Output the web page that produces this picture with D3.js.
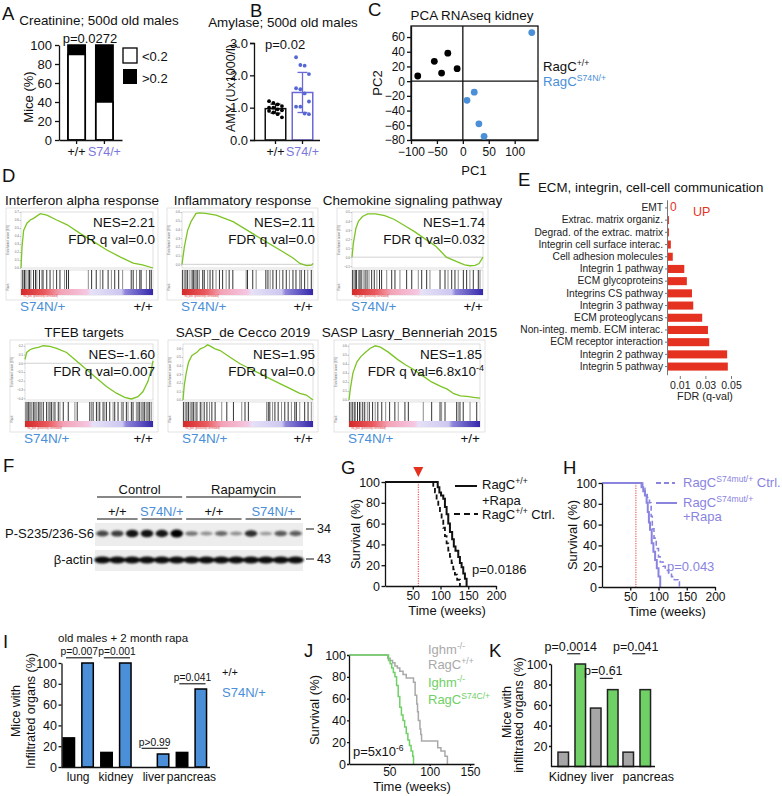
<!DOCTYPE html>
<html>
<head>
<meta charset="utf-8">
<script src="https://cdn.jsdelivr.net/npm/d3@7"></script>
<style>
  body { margin: 0; background: #fff; }
  svg text { font-family: "Liberation Sans", Arial, Helvetica, sans-serif; }
</style>
</head>
<body>
<svg id="fig" width="782" height="796"></svg>
<script>
// ---------------- data ----------------
// A: creatinine
var creatGroups = ["+/+", "S74/+"];
var creatLow = [90, 40];            // % of mice with creatinine < 0.2

// B: amylase (U x1000/l)
var amyGroups = ["+/+", "S74/+"];
var amyWt = [1.2, 1.15, 1.1, 1.05, 1.0, 1.0, 0.95, 0.92, 0.9, 0.85, 0.8, 0.7];
var amyMut = [2.56, 2.32, 2.30, 2.04, 1.60, 1.57, 1.44, 1.19, 1.03, 1.03, 0.82, 0.80];
var amyMean = [0.97, 1.47];
var amySd = [0.14, 0.62];

// C: PCA
var pcaWt = [[-87, 7], [-55, 27], [-41, 11], [-29, 38], [-11, 17]];
var pcaMut = [[8, -26], [22, -15], [31, -58], [41, -75], [133, 66]];

// D: GSEA  (rank %, enrichment score) and hit ranks in %
var gseaTitles = ["Interferon alpha response", "Inflammatory response", "Chemokine signaling pathway",
                  "TFEB targets", "SASP_de Cecco 2019", "SASP Lasry_Benneriah 2015"];
var gseaNes = ["NES=2.21", "NES=2.11", "NES=1.74", "NES=-1.60", "NES=1.95", "NES=1.85"];
var gseaFdr = ["0.0", "0.0", "0.032", "0.007", "0.0", "6.8x10"];
var esIfna = [[0,0],[0.8,0.27],[2,0.47],[4.5,0.56],[7,0.6],[9.5,0.62],[14.6,0.68],[19.6,0.66],[27,0.6],[35,0.54],[45,0.43],[55,0.33],[65,0.225],[75,0.14],[85,0.06],[92,0.04],[100,0]];
var hitsIfna = [1,1.5,2.5,3,4.5,6,6.5,7.5,9.5,11,12,14,16,17,19.5,22,24.5,27,29.5,33,34.5,36,51,53.5,57,60,62,66,68.5,71,74,77,83.5,85,87.5,90,91,95,97.5,98.7];
var esInfl = [[0,0],[1.8,0.2],[4.3,0.39],[6.9,0.49],[10.7,0.585],[13.3,0.59],[18,0.585],[26,0.565],[39,0.49],[51.5,0.375],[64,0.26],[77,0.145],[85,0.07],[90,0.01],[95,-0.015],[99,-0.01],[100,0.01]];
var hitsInfl = [0.5,1.8,3,4.3,6,7.7,8.7,9.4,10.7,12,13.3,15.8,17,19.6,21.4,23.5,26,28.6,31,33.7,36,38.8,49,50,54,56.6,64,65.6,67.3,69.4,72,74.5,77,79.6,82,84.7,87,89.8,91,93.6,96,98.7];
var esChemo = [[0,0],[1,0.15],[3,0.32],[5,0.4],[8,0.45],[12,0.48],[18,0.48],[25,0.46],[32,0.42],[40,0.35],[48,0.28],[56,0.2],[64,0.12],[72,0.0],[80,-0.05],[86,-0.085],[90,-0.095],[94,-0.09],[97,-0.07],[100,0.0]];
var hitsChemo = [0.5,1.5,2.5,3.5,5,6,7,8.5,10,11.5,13,15,17,19,21,22.6,26.5,30.3,32.8,36.6,41.7,45.6,50.6,53.2,57,59.5,67.2,71,73.3,76.1,78.6,81.1,85,87.5,90,92.6,96.4,97.7];
var esTfeb = [[0,0.045],[1.3,0.123],[3.9,0.154],[6.5,0.17],[10.4,0.181],[14.3,0.2],[19.5,0.193],[24.7,0.17],[32.5,0.123],[40.3,0.026],[48,-0.071],[55.8,-0.168],[63.6,-0.265],[71.4,-0.342],[77.9,-0.389],[83.1,-0.408],[88.3,-0.381],[92.2,-0.323],[96.1,-0.207],[98.7,-0.071],[100,0.026]];
var hitsTfeb = [0.8,1.8,2.6,3.9,5.2,6.5,7.8,9.1,10.4,11.7,13,14.3,16.9,18.2,19.5,20.8,22.1,23.4,26,27.3,29.9,33.8,39,40.8,50.6,51.9,53.2,55.8,57.1,58.4,61,62.3,63.6,66.2,68.8,70.1,72.7,75.3,76.6,79.2,80.5,83.1,84.4,87,88.3,89.6,90.9,92.2,93.5,94.8,96.1,97.4,98.7];
var esCecco = [[0,0],[1,0.172],[2.6,0.325],[4.3,0.44],[6.9,0.516],[10.7,0.554],[13.3,0.593],[16.3,0.612],[18.9,0.64],[21.4,0.623],[24.7,0.593],[28.6,0.574],[36.2,0.497],[43.9,0.421],[51.5,0.363],[59.2,0.306],[66.8,0.248],[74.5,0.191],[82.1,0.134],[89.8,0.076],[94.9,0.057],[100,0]];
var hitsCecco = [0.5,1.8,3,4.3,5.6,6.9,8.2,9.4,10.7,13.3,14.5,16.3,18.4,20.4,22.2,24.7,29.8,33.7,38.8,45.2,47.7,50.3,64.3,65.6,66.8,68.9,70.7,73.2,75.8,78.3,80.9,83.4,86,87.2,89.8,93.6,96.2,98.7];
var esLasry = [[0,0],[1,0.12],[3,0.3],[6,0.42],[9,0.48],[12,0.52],[16,0.57],[20,0.6],[24,0.585],[30,0.53],[37,0.45],[43,0.39],[49,0.34],[56,0.27],[63,0.2],[70,0.15],[75,0.12],[80,0.07],[85,0.045],[90,0.04],[95,0.03],[100,0.02]];
var hitsLasry = [0.5,1.5,2.5,4,5,6.5,8,9,10.5,12,14,15.5,18,20,22,25,28,31,35,37.6,42.7,45.3,56.7,63.1,69.5,70.7,73.3,82.2,83.4,84.7,87.2,92.4,97.5];

// E: ECM terms, FDR q-values
var ecmTerms = ["EMT", "Extrac. matrix organiz.", "Degrad. of the extrac. matrix", "Integrin cell surface interac.",
                "Cell adhesion molecules", "Integrin 1 pathway", "ECM glycoproteins", "Integrins CS pathway",
                "Integrin 3 pathway", "ECM proteoglycans", "Non-integ. memb. ECM interac.", "ECM receptor interaction",
                "Integrin 2 pathway", "Integrin 5 pathway"];
var ecmFdr = [0, 0.0015, 0.0015, 0.003, 0.0045, 0.0135, 0.0155, 0.0195, 0.0205, 0.0275, 0.032, 0.033, 0.047, 0.0475];
var ecmTicks = [0.01, 0.03, 0.05];

// F: western blot, relative band intensity per lane
var blotTreatments = ["Control", "Rapamycin"];
var blotGenotypes = ["+/+", "S74N/+", "+/+", "S74N/+"];
var blotLanesPerGroup = [3, 3, 4, 4];
var ps6Signal = [0.6, 0.65, 0.9, 0.9, 0.88, 1.0, 0.35, 0.2, 0.42, 0.2, 0.75, 0.15, 0.5, 0.48];
var actinSignal = [0.95, 0.95, 0.95, 0.95, 0.95, 0.95, 0.95, 0.95, 0.95, 0.95, 0.95, 0.95, 0.95, 0.95];

// G, H, J: Kaplan-Meier steps [weeks, survival %]
var gRapa = [[0,100],[93,100],[95,95],[98,90],[101,87],[105,84],[108,76],[111,69],[114,60],[117,52],[121,45],[124,38],[127,34],[132,28],[135,22],[138,18],[141,12],[144,7],[147,0]];
var gCtrl = [[0,100],[84,100],[87,95],[90,90],[93,83],[96,77],[99,70],[102,64],[105,56],[108,48],[111,41],[114,34],[117,28],[120,22],[123,16],[126,11],[130,6],[135,0]];
var hRapa = [[0,100],[67,100],[70,96],[73,92],[76,88],[79,81],[81,72],[83,62],[85,55],[88,42],[91,34],[94,26],[97,18],[100,10],[103,0]];
var hCtrl = [[0,100],[68,100],[72,95],[76,90],[80,86],[84,81],[87,68],[89,56],[92,47],[96,37],[100,29],[103,24],[108,20],[112,16],[118,13],[123,10],[128,7],[135,5],[137,0]];
var jWt = [[0,100],[45,100],[48,97],[51,95],[54,93],[57,90],[60,88],[63,85],[67,82],[71,79],[80,75],[82,63],[84,55],[85,48],[86,40],[88,32],[89,27],[90,21],[107,21],[110,15],[114,12],[119,7],[122,0]];
var jMut = [[0,100],[47,100],[49,95],[51,92],[53,88],[55,84],[57,80],[59,72],[61,62],[63,52],[65,45],[67,40],[69,34],[71,28],[73,22],[75,17],[77,12],[79,7],[80,0]];
var survTicks = [0, 20, 40, 60, 80, 100];

// I: infiltrated organs, old males + rapa
var organsI = ["lung", "kidney", "liver", "pancreas"];
var infWt = [28, 14, 0, 14];
var infMut = [100, 100, 12.5, 75];
var pI = ["p=0.007", "p=0.001", "p>0.99", "p=0.041"];
var pLevelI = [105, 105, 18, 80];

// K: Ighm-/- infiltrated organs
var organsK = ["Kidney", "liver", "pancreas"];
var infKWt = [14, 57, 14];
var infKMut = [100, 75, 75];
var pK = ["p=0.0014", "p=0.61", "p=0.041"];
var pLevelK = [110, 86, 110];

// ---------------- helpers ----------------
var BLUE = "#4a8fd8", PURPLE = "#7b76dc", HPURPLE = "#8a84df", RED = "#e5311f",
    GREEN = "#6fd066", GRAY = "#a9a9a9", ESGREEN = "#7cc424", INK = "#111";

var svg = d3.select("#fig");
svg.append("rect").attr("width", 782).attr("height", 796).attr("fill", "#fff");

var defs = svg.append("defs");
var grad = defs.append("linearGradient").attr("id", "rank");
[[0, "#d42a2a"], [0.18, "#ea5a5e"], [0.3, "#f3a3b6"], [0.5, "#f5c7e2"], [0.53, "#e6e1f7"],
 [0.76, "#cdc7f1"], [0.79, "#8f86da"], [1, "#3527aa"]].forEach(function(s) {
  grad.append("stop").attr("offset", s[0]).attr("stop-color", s[1]);
});
defs.append("filter").attr("id", "blur").attr("x", "-50%").attr("y", "-100%").attr("width", "200%").attr("height", "300%")
  .append("feGaussianBlur").attr("stdDeviation", 1.1);

function txt(x, y, s, o) {
  o = o || {};
  var t = svg.append("text").attr("x", x).attr("y", y)
    .attr("font-size", o.size || 13).attr("fill", o.color || INK)
    .attr("text-anchor", o.anchor || "start").text(s);
  if (o.rotate) t.attr("transform", "rotate(-90," + x + "," + y + ")");
  return t;
}
// parts: [string, isSuperscript]
function rich(x, y, parts, o) {
  o = o || {};
  var size = o.size || 13;
  var t = svg.append("text").attr("x", x).attr("y", y).attr("font-size", size)
    .attr("fill", o.color || INK).attr("text-anchor", o.anchor || "start");
  var shift = 0;
  parts.forEach(function(p) {
    var want = p[1] ? -size * 0.38 : 0;
    t.append("tspan").attr("dy", want - shift).attr("font-size", p[1] ? size * 0.66 : size).text(p[0]);
    shift = want;
  });
  return t;
}
function letter(x, y, s) { txt(x, y, s, {size: 18.5}); }
function styleAxis(g, size) {
  g.attr("font-size", size || 13);
  g.selectAll("path, line").attr("stroke", INK).attr("stroke-width", 1.3);
  g.selectAll("text").attr("fill", INK);
  return g;
}

// ---------------- A ----------------
letter(2, 20, "A");
txt(99, 25, "Creatinine; 500d old males", {size: 13.4, anchor: "middle"});
txt(90, 43, "p=0.0272", {anchor: "middle"});
var xA = d3.scaleBand().domain(creatGroups).range([59, 122]).paddingInner(0.375).paddingOuter(0.32);
var yA = d3.scaleLinear().domain([0, 100]).range([140, 45]);
svg.append("g").selectAll("rect").data(creatGroups).enter().append("rect")
  .attr("x", d => xA(d)).attr("width", xA.bandwidth())
  .attr("y", yA(100)).attr("height", (d, i) => yA(creatLow[i]) - yA(100))
  .attr("fill", "#000");
svg.append("g").selectAll("rect").data(creatGroups).enter().append("rect")
  .attr("x", d => xA(d)).attr("width", xA.bandwidth())
  .attr("y", (d, i) => yA(creatLow[i])).attr("height", (d, i) => yA(0) - yA(creatLow[i]))
  .attr("fill", "#fff").attr("stroke", "#000").attr("stroke-width", 1.5);
svg.append("g").selectAll("rect").data(creatGroups).enter().append("rect")
  .attr("x", d => xA(d)).attr("width", xA.bandwidth())
  .attr("y", yA(100)).attr("height", yA(0) - yA(100))
  .attr("fill", "none").attr("stroke", "#000").attr("stroke-width", 1.5);
styleAxis(svg.append("g").attr("transform", "translate(59,0)")
  .call(d3.axisLeft(yA).tickValues([0, 20, 40, 60, 80, 100]).tickSize(4).tickSizeOuter(0)));
var axA = styleAxis(svg.append("g").attr("transform", "translate(0,140)")
  .call(d3.axisBottom(xA).tickSize(4).tickSizeOuter(0)), 12.5);
axA.selectAll("text").attr("fill", (d, i) => i ? PURPLE : INK);
txt(33, 97, "Mice (%)", {anchor: "middle", rotate: true});
svg.append("rect").attr("x", 123).attr("y", 48).attr("width", 14).attr("height", 15).attr("fill", "#fff").attr("stroke", "#000").attr("stroke-width", 1.3);
svg.append("rect").attr("x", 123).attr("y", 69).attr("width", 14).attr("height", 15).attr("fill", "#000");
txt(142, 61, "<0.2");
txt(142, 83, ">0.2");

// ---------------- B ----------------
letter(250, 17, "B");
txt(283, 27, "Amylase; 500d old males", {size: 13.4, anchor: "middle"});
var xB = d3.scaleBand().domain(amyGroups).range([254, 324]).paddingInner(0.24).paddingOuter(0.416);
var yB = d3.scaleLinear().domain([0, 3]).range([140, 43]);
var amyCol = [INK, "#6b69d6"];
svg.append("g").selectAll("rect").data(amyGroups).enter().append("rect")
  .attr("x", d => xB(d)).attr("width", xB.bandwidth())
  .attr("y", (d, i) => yB(amyMean[i])).attr("height", (d, i) => yB(0) - yB(amyMean[i]))
  .attr("fill", "#fff").attr("stroke", (d, i) => amyCol[i]).attr("stroke-width", 1.5);
amyGroups.forEach(function(gname, i) {
  var cx = xB(gname) + xB.bandwidth() / 2;
  var lo = yB(amyMean[i] - amySd[i]), hi = yB(amyMean[i] + amySd[i]);
  var eg = svg.append("g").attr("stroke", amyCol[i]).attr("stroke-width", 1.3);
  eg.append("line").attr("x1", cx).attr("x2", cx).attr("y1", lo).attr("y2", hi);
  eg.append("line").attr("x1", cx - 5).attr("x2", cx + 5).attr("y1", lo).attr("y2", lo);
  eg.append("line").attr("x1", cx - 5).attr("x2", cx + 5).attr("y1", hi).attr("y2", hi);
  svg.append("g").selectAll("circle").data(i ? amyMut : amyWt).enter().append("circle")
    .attr("cx", (d, k) => cx + ((k % 4) - 1.5) * 4.3)
    .attr("cy", d => yB(d)).attr("r", 1.9)
    .attr("fill", i ? "#5467d2" : "#000");
});
styleAxis(svg.append("g").attr("transform", "translate(254,0)")
  .call(d3.axisLeft(yB).tickValues([0, 1, 2, 3]).tickSize(4).tickSizeOuter(4).tickPadding(2)));
var axB = styleAxis(svg.append("g").attr("transform", "translate(0,140)")
  .call(d3.axisBottom(xB).tickSize(4).tickSizeOuter(0)), 12.5);
axB.select(".domain").attr("d", "M254,0.5H320");
axB.selectAll("text").attr("fill", (d, i) => i ? PURPLE : INK);
txt(265, 49, "p=0.02");
txt(235, 88, "AMY (Ux1000/l)", {size: 12.5, anchor: "middle", rotate: true});

// ---------------- C ----------------
letter(368, 16, "C");
txt(472, 20, "PCA RNAseq kidney", {size: 13.4, anchor: "middle"});
var xC = d3.scaleLinear().domain([-100, 145]).range([411, 538]);
var yC = d3.scaleLinear().domain([-80, 75]).range([140, 26]);
svg.append("rect").attr("x", 411).attr("y", 26).attr("width", 127).attr("height", 114)
  .attr("fill", "none").attr("stroke", INK).attr("stroke-width", 1.3);
svg.append("line").attr("x1", xC(0)).attr("x2", xC(0)).attr("y1", 26).attr("y2", 140).attr("stroke", INK).attr("stroke-width", 1.3);
svg.append("line").attr("x1", 411).attr("x2", 538).attr("y1", yC(0)).attr("y2", yC(0)).attr("stroke", INK).attr("stroke-width", 1.3);
styleAxis(svg.append("g").attr("transform", "translate(411,0)")
  .call(d3.axisLeft(yC).tickValues([-80, -60, -40, -20, 0, 20, 40, 60]).tickSize(4).tickSizeOuter(0).tickPadding(2)), 12);
styleAxis(svg.append("g").attr("transform", "translate(0,140)")
  .call(d3.axisBottom(xC).tickValues([-100, -50, 0, 50, 100]).tickSize(4).tickSizeOuter(0)), 12);
svg.append("g").selectAll("circle").data(pcaWt).enter().append("circle")
  .attr("cx", d => xC(d[0])).attr("cy", d => yC(d[1])).attr("r", 3.4).attr("fill", "#000");
svg.append("g").selectAll("circle").data(pcaMut).enter().append("circle")
  .attr("cx", d => xC(d[0])).attr("cy", d => yC(d[1])).attr("r", 3.4).attr("fill", BLUE);
txt(474, 175, "PC1", {anchor: "middle"});
txt(382, 83, "PC2", {anchor: "middle", rotate: true});
rich(543, 71, [["RagC", 0], ["+/+", 1]], {size: 13.2});
rich(543, 86, [["RagC", 0], ["S74N/+", 1]], {size: 13.2, color: BLUE});

// ---------------- D: GSEA ----------------
letter(2, 182, "D");
function gsea(x0, top, w, k, es, hits, dom) {
  var esH = 56, hitH = 19, barH = 6;
  var g = svg.append("g");
  var x = d3.scaleLinear().domain([0, 100]).range([x0, x0 + w]);
  var y = d3.scaleLinear().domain(dom).range([top + esH, top]);
  var hTop = top + esH + 2;
  g.append("rect").attr("x", x0 - 15).attr("y", top - 4).attr("width", w + 20).attr("height", esH + hitH + barH + 11)
    .attr("fill", "none").attr("stroke", "#dcdcdc").attr("stroke-width", 0.8);
  g.append("rect").attr("x", x0).attr("y", top).attr("width", w).attr("height", esH)
    .attr("fill", "#fff").attr("stroke", "#d0d0d0").attr("stroke-width", 0.7);
  g.append("rect").attr("x", x0).attr("y", hTop).attr("width", w).attr("height", hitH + barH)
    .attr("fill", "#fff").attr("stroke", "#d0d0d0").attr("stroke-width", 0.7);
  if (dom[0] < 0) {
    g.append("line").attr("x1", x0).attr("x2", x0 + w).attr("y1", y(0)).attr("y2", y(0))
      .attr("stroke", "#bdbdbd").attr("stroke-width", 0.7);
  }
  var ax = g.append("g").attr("transform", "translate(" + x0 + ",0)")
    .call(d3.axisLeft(y).ticks(7).tickSize(1.5).tickSizeOuter(0));
  ax.attr("font-size", 3);
  ax.select(".domain").remove();
  ax.selectAll("line").attr("stroke", "#888").attr("stroke-width", 0.5);
  ax.selectAll("text").attr("fill", "#666").attr("x", -2);
  txt(x0 - 12.5, top + esH / 2, "Enrichment score (ES)", {size: 3, color: "#666", anchor: "middle", rotate: true});
  txt(x0 - 12.5, hTop + 17, "Rank", {size: 3, color: "#666", anchor: "middle", rotate: true});
  g.append("g").selectAll("line").data(hits).enter().append("line")
    .attr("x1", d => x(d)).attr("x2", d => x(d)).attr("y1", hTop).attr("y2", hTop + hitH)
    .attr("stroke", (d, i) => (i % 3 === 1) ? "#777" : "#111").attr("stroke-width", 0.85);
  g.append("rect").attr("x", x0).attr("y", hTop + hitH).attr("width", w).attr("height", barH).attr("fill", "url(#rank)");
  txt(x0 + 2, hTop + hitH + barH + 2.3, "'na_pos' (positively correlated)", {size: 2.6, color: "#e03030"});
  g.append("path").datum(es)
    .attr("d", d3.line().x(d => x(d[0])).y(d => y(d[1])))
    .attr("fill", "none").attr("stroke", ESGREEN).attr("stroke-width", 1.3);
  txt(x0 + w / 2 - 5, top - 7, gseaTitles[k], {size: 13.5, anchor: "middle"});
  txt(x0 + w + 2, top + 15, gseaNes[k], {size: 13.5, anchor: "end"});
  if (k === 5) {
    rich(x0 + w + 4, top + 32, [["FDR q val=" + gseaFdr[k], 0], ["-4", 1]], {size: 13.5, anchor: "end"});
  } else {
    txt(x0 + w + 2, top + 32, "FDR q val=" + gseaFdr[k], {size: 13.5, anchor: "end"});
  }
  txt(x0 - 1, top + 99, "S74N/+", {size: 13.5, color: BLUE});
  txt(x0 + w, top + 99, "+/+", {size: 13.5, anchor: "end"});
}
gsea(21, 212, 132, 0, esIfna, hitsIfna, [0, 0.7]);
gsea(182, 212, 131, 1, esInfl, hitsInfl, [-0.042, 0.6]);
gsea(352, 212, 131, 2, esChemo, hitsChemo, [-0.12, 0.5]);
gsea(25, 344, 128, 3, esTfeb, hitsTfeb, [-0.42, 0.22]);
gsea(183, 344, 130, 4, esCecco, hitsCecco, [0, 0.65]);
gsea(349, 344, 131, 5, esLasry, hitsLasry, [0, 0.62]);

// ---------------- E ----------------
letter(518, 186, "E");
txt(538, 192, "ECM, integrin, cell-cell communication", {size: 13.3});
var yE = d3.scaleBand().domain(ecmTerms).range([199.75, 374.75]).padding(0.34);
var xE = d3.scaleLinear().domain([0, 0.05]).range([667, 731]);
svg.append("g").selectAll("rect").data(ecmTerms).enter().append("rect")
  .attr("x", xE(0)).attr("y", d => yE(d)).attr("height", yE.bandwidth())
  .attr("width", (d, i) => xE(ecmFdr[i]) - xE(0)).attr("fill", RED);
var axEy = svg.append("g").attr("transform", "translate(667,0)")
  .call(d3.axisLeft(yE).tickSize(2).tickSizeOuter(0).tickPadding(2));
axEy.attr("font-size", 10.2);
axEy.selectAll("path, line").attr("stroke", "#777").attr("stroke-width", 1);
axEy.selectAll("text").attr("fill", "#222");
var axEx = svg.append("g").attr("transform", "translate(0,376)")
  .call(d3.axisBottom(xE).tickValues(ecmTicks).tickFormat(d3.format(".2f")).tickSize(3).tickSizeOuter(0));
axEx.attr("font-size", 10.5);
axEx.select(".domain").remove();
axEx.selectAll("line").attr("stroke", "#777");
axEx.selectAll("text").attr("fill", "#222");
txt(705, 400, "FDR (q-val)", {size: 10.8, anchor: "middle", color: "#222"});
txt(670, 211, "0", {size: 12, color: RED});
txt(693, 216, "UP", {size: 12.5, color: RED});

// ---------------- F: western blot ----------------
letter(3, 472, "F");
var lanes = d3.range(ps6Signal.length);
var xF = d3.scaleBand().domain(lanes).range([95, 303]).padding(0);
svg.append("rect").attr("x", 95).attr("y", 523).attr("width", 208).attr("height", 23).attr("fill", "#ededed");
svg.append("rect").attr("x", 95).attr("y", 550).attr("width", 208).attr("height", 21).attr("fill", "#ededed");
var bandG = svg.append("g").attr("filter", "url(#blur)");
bandG.selectAll(".ps6").data(ps6Signal).enter().append("ellipse")
  .attr("cx", (d, i) => xF(i) + xF.bandwidth() / 2).attr("cy", 533.5)
  .attr("rx", 6.3).attr("ry", d => 1.4 + 2.6 * d)
  .attr("fill", "#000").attr("fill-opacity", d => 0.25 + 0.75 * d);
bandG.selectAll(".act").data(actinSignal).enter().append("ellipse")
  .attr("cx", (d, i) => xF(i) + xF.bandwidth() / 2).attr("cy", 560)
  .attr("rx", 8.2).attr("ry", d => 3.6 * d)
  .attr("fill", "#000").attr("fill-opacity", d => d);
var laneStart = 0, gCenters = [];
blotLanesPerGroup.forEach(function(n, gi) {
  var a = xF(laneStart), b = xF(laneStart + n - 1) + xF.bandwidth();
  svg.append("line").attr("x1", a + 2).attr("x2", b - 2).attr("y1", 519).attr("y2", 519).attr("stroke", INK).attr("stroke-width", 1.1);
  txt((a + b) / 2, 516, blotGenotypes[gi], {anchor: "middle", color: gi % 2 ? BLUE : INK});
  gCenters.push([a, b]);
  laneStart += n;
});
[[0, 1], [2, 3]].forEach(function(pair, ti) {
  var a = gCenters[pair[0]][0], b = gCenters[pair[1]][1];
  svg.append("line").attr("x1", a + 2).attr("x2", b - 2).attr("y1", 497).attr("y2", 497).attr("stroke", INK).attr("stroke-width", 1.1);
  txt((a + b) / 2, 494, blotTreatments[ti], {anchor: "middle"});
});
txt(94, 538, "P-S235/236-S6", {anchor: "end"});
txt(93, 564, "\u03b2-actin", {anchor: "end"});
svg.append("line").attr("x1", 306).attr("x2", 314).attr("y1", 529).attr("y2", 529).attr("stroke", INK);
svg.append("line").attr("x1", 306).attr("x2", 314).attr("y1", 559).attr("y2", 559).attr("stroke", INK);
txt(317, 533, "34", {size: 12.5});
txt(317, 563, "43", {size: 12.5});

// ---------------- survival helpers ----------------
function survAxes(x, y, x0, y0, xt, tick, pad) {
  styleAxis(svg.append("g").attr("transform", "translate(" + x0 + ",0)")
    .call(d3.axisLeft(y).tickValues(survTicks).tickSize(tick).tickSizeOuter(0).tickPadding(pad)), 12.5);
  styleAxis(svg.append("g").attr("transform", "translate(0," + y0 + ")")
    .call(d3.axisBottom(x).tickValues(xt).tickSize(tick).tickSizeOuter(0).tickPadding(pad)), 12);
}
function survLine(x, y, data, color, dash, width) {
  svg.append("path").datum(data)
    .attr("d", d3.line().x(d => x(d[0])).y(d => y(d[1])).curve(d3.curveStepAfter))
    .attr("fill", "none").attr("stroke", color).attr("stroke-width", width || 2)
    .attr("stroke-dasharray", dash || null);
}

// ---------------- G ----------------
letter(341, 474, "G");
var xG = d3.scaleLinear().domain([0, 200]).range([385, 496]);
var yG = d3.scaleLinear().domain([0, 100]).range([586, 482]);
svg.append("line").attr("x1", xG(60)).attr("x2", xG(60)).attr("y1", yG(100)).attr("y2", yG(0))
  .attr("stroke", "#ee3a3a").attr("stroke-width", 1).attr("stroke-dasharray", "1.2,1.2");
svg.append("path").attr("d", "M" + (xG(60) - 5) + ",467 L" + (xG(60) + 5) + ",467 L" + xG(60) + ",477 Z").attr("fill", RED);
survLine(xG, yG, gCtrl, INK, "5,3", 1.8);
survLine(xG, yG, gRapa, INK, null, 2);
survAxes(xG, yG, 385, 586, [50, 100, 150, 200], 3.5, 1.5);
txt(360, 534, "Survival (%)", {anchor: "middle", rotate: true});
txt(447, 615, "Time (weeks)", {anchor: "middle"});
txt(472, 574, "p=0.0186");
svg.append("line").attr("x1", 455).attr("x2", 477).attr("y1", 486).attr("y2", 486).attr("stroke", INK).attr("stroke-width", 2);
rich(482, 489, [["RagC", 0], ["+/+", 1]]);
txt(482, 505, "+Rapa");
svg.append("line").attr("x1", 454).attr("x2", 478).attr("y1", 514).attr("y2", 514).attr("stroke", INK).attr("stroke-width", 2).attr("stroke-dasharray", "6,4");
rich(482, 519, [["RagC", 0], ["+/+", 1], [" Ctrl.", 0]]);

// ---------------- H ----------------
letter(563, 474, "H");
var xH = d3.scaleLinear().domain([0, 200]).range([602, 715]);
var yH = d3.scaleLinear().domain([0, 100]).range([587, 483]);
svg.append("line").attr("x1", xH(60)).attr("x2", xH(60)).attr("y1", yH(100)).attr("y2", yH(0))
  .attr("stroke", "#ee3a3a").attr("stroke-width", 1).attr("stroke-dasharray", "1.2,1.2");
survLine(xH, yH, hCtrl, HPURPLE, "5,3", 1.6);
survLine(xH, yH, hRapa, HPURPLE, null, 2);
survAxes(xH, yH, 602, 587, [50, 100, 150, 200], 3.5, 1.5);
txt(577, 535, "Survival (%)", {anchor: "middle", rotate: true});
txt(667, 616, "Time (weeks)", {anchor: "middle"});
txt(667, 571, "p=0.043", {color: HPURPLE});
svg.append("line").attr("x1", 656).attr("x2", 675).attr("y1", 483).attr("y2", 483).attr("stroke", HPURPLE).attr("stroke-width", 1.8).attr("stroke-dasharray", "5,3");
rich(683, 487, [["RagC", 0], ["S74mut/+", 1], [" Ctrl.", 0]], {color: HPURPLE});
svg.append("line").attr("x1", 656).attr("x2", 677).attr("y1", 503).attr("y2", 503).attr("stroke", HPURPLE).attr("stroke-width", 2);
rich(683, 507, [["RagC", 0], ["S74mut/+", 1]], {color: HPURPLE});
txt(683, 521, "+Rapa", {color: HPURPLE});

// ---------------- I ----------------
letter(3, 648, "I");
txt(58, 642, "old males + 2 month rapa", {size: 11.5});
var xI = d3.scaleBand().domain(organsI).range([59.3, 210.3]);
var xIin = d3.scaleBand().domain([0, 1]).range([0, xI.bandwidth()]).paddingInner(0.39).paddingOuter(0.2);
var yI = d3.scaleLinear().domain([0, 100]).range([767, 663]);
organsI.forEach(function(o, i) {
  [infWt[i], infMut[i]].forEach(function(v, k) {
    if (v <= 0) return;
    svg.append("rect").attr("x", xI(o) + xIin(k)).attr("width", xIin.bandwidth())
      .attr("y", yI(v)).attr("height", yI(0) - yI(v))
      .attr("fill", k ? BLUE : "#000").attr("stroke", "#000").attr("stroke-width", 1.5);
  });
  var a = xI(o) + xIin(0) + 3, b = xI(o) + xIin(1) + xIin.bandwidth() - 1;
  var ly = yI(pLevelI[i]);
  svg.append("line").attr("x1", a).attr("x2", b).attr("y1", ly).attr("y2", ly).attr("stroke", INK).attr("stroke-width", 1.1);
  txt((a + b) / 2, ly - 2.5, pI[i], {size: 10.3, anchor: "middle"});
});
styleAxis(svg.append("g").attr("transform", "translate(61.5,0)")
  .call(d3.axisLeft(yI).tickValues([0, 20, 40, 60, 80, 100]).tickSize(3).tickSizeOuter(0).tickPadding(1.5)), 12.5);
var axI = styleAxis(svg.append("g").attr("transform", "translate(0,767)")
  .call(d3.axisBottom(xI).tickSize(0).tickSizeOuter(0).tickPadding(5)), 12);
axI.select(".domain").attr("d", "M61.5,0.5H210");
txt(20, 711, "Mice with", {size: 12.5, anchor: "middle", rotate: true});
txt(34.5, 711, "Infiltrated organs (%)", {size: 12.5, anchor: "middle", rotate: true});
txt(222, 676, "+/+", {size: 11});
txt(222, 697, "S74N/+", {color: BLUE});

// ---------------- J ----------------
letter(304, 657, "J");
var xJ = d3.scaleLinear().domain([0, 155]).range([349, 474]);
var yJ = d3.scaleLinear().domain([0, 100]).range([764, 655]);
survLine(xJ, yJ, jWt, GRAY, null, 1.5);
survLine(xJ, yJ, jMut, GREEN, null, 1.5);
survAxes(xJ, yJ, 349, 764, [50, 100, 150], 2, 1);
txt(319, 710, "Survival (%)", {anchor: "middle", rotate: true});
txt(412, 791, "Time (weeks)", {anchor: "middle"});
rich(353, 756, [["p=5x10", 0], ["-6", 1]]);
rich(428, 654, [["Ighm", 0], ["-/-", 1]], {color: GRAY});
rich(428, 669, [["RagC", 0], ["+/+", 1]], {color: GRAY});
rich(428, 687, [["Ighm", 0], ["-/-", 1]], {color: GREEN});
rich(428, 704, [["RagC", 0], ["S74C/+", 1]], {color: GREEN});

// ---------------- K ----------------
letter(489, 657, "K");
var xK = d3.scaleBand().domain(organsK).range([555.5, 653]);
var xKin = d3.scaleBand().domain([0, 1]).range([0, xK.bandwidth()]).paddingInner(0.38).paddingOuter(0.145);
var yK = d3.scaleLinear().domain([0, 100]).range([766.5, 664]);
organsK.forEach(function(o, i) {
  [infKWt[i], infKMut[i]].forEach(function(v, k) {
    svg.append("rect").attr("x", xK(o) + xKin(k)).attr("width", xKin.bandwidth())
      .attr("y", yK(v)).attr("height", yK(0) - yK(v))
      .attr("fill", k ? GREEN : "#a6a6a6").attr("stroke", "#222").attr("stroke-width", 1.5);
  });
  var a = xK(o) + xKin(0) + xKin.bandwidth() / 2 + 4, b = xK(o) + xKin(1) + xKin.bandwidth() / 2;
  var ly = yK(pLevelK[i]);
  svg.append("line").attr("x1", a).attr("x2", b).attr("y1", ly).attr("y2", ly).attr("stroke", INK).attr("stroke-width", 1.1);
  txt((a + b) / 2 - 3, ly - 3, pK[i], {size: 12.5, anchor: "middle"});
  var lx = i === 2 ? xK(o) + 2 : xK(o) + xK.bandwidth() / 2 - (i === 0 ? 4 : 2);
  txt(lx, 781, o, {size: 12.5, anchor: i === 2 ? "start" : "middle"});
});
styleAxis(svg.append("g").attr("transform", "translate(551,0)")
  .call(d3.axisLeft(yK).tickValues([20, 40, 60, 80, 100]).tickSize(2).tickSizeOuter(0).tickPadding(1.5)), 12.5);
svg.append("line").attr("x1", 551).attr("x2", 655).attr("y1", 766.5).attr("y2", 766.5).attr("stroke", INK).attr("stroke-width", 1.3);
txt(511, 712, "Mice with", {size: 12.5, anchor: "middle", rotate: true});
txt(523, 715, "infiltrated organs (%)", {size: 12.5, anchor: "middle", rotate: true});
</script>
</body>
</html>
